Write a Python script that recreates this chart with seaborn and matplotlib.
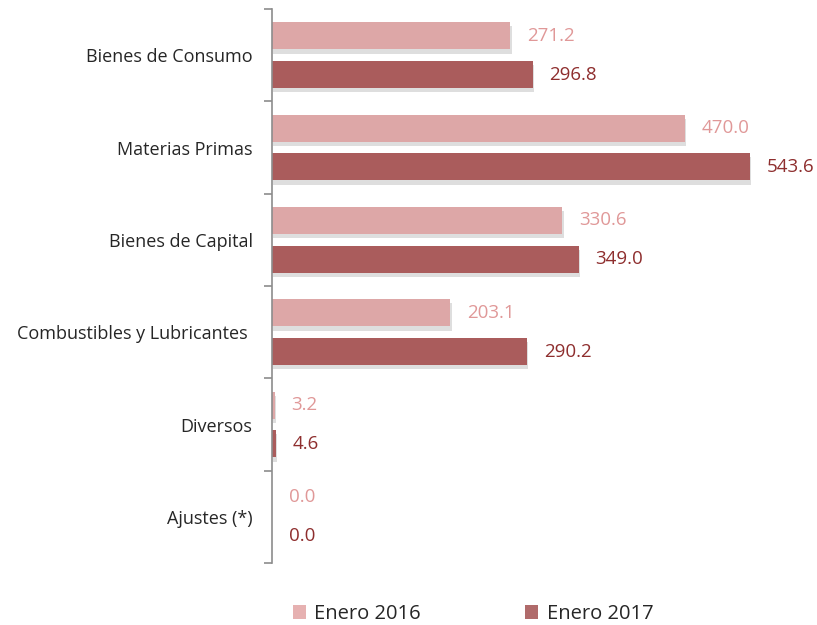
import numpy as np
import pandas as pd
import matplotlib
matplotlib.use("Agg")
import matplotlib.pyplot as plt
import matplotlib.patheffects as pe
from matplotlib.patches import Patch
import seaborn as sns

categories = ["Bienes de Consumo", "Materias Primas", "Bienes de Capital",
              "Combustibles y Lubricantes ", "Diversos", "Ajustes (*)"]
enero_2016 = [271.2, 470.0, 330.6, 203.1, 3.2, 0.0]
enero_2017 = [296.8, 543.6, 349.0, 290.2, 4.6, 0.0]
series = ["Enero 2016", "Enero 2017"]

C = {"Enero 2016": "#DDA7A7", "Enero 2017": "#AA5C5C"}
TXT = {"Enero 2016": "#E09898", "Enero 2017": "#8E2E2E"}
LEG = {"Enero 2016": "#E6B1B1", "Enero 2017": "#B06B6B"}

sns.set_style("white")
plt.rcParams["font.family"] = ["Open Sans", "DejaVu Sans"]

df = pd.DataFrame({
    "cat": categories * 2,
    "val": enero_2016 + enero_2017,
    "serie": [series[0]] * len(categories) + [series[1]] * len(categories),
})

fig = plt.figure(figsize=(8.17, 6.25), dpi=100)
ax = fig.add_axes([272 / 817, 62 / 625, 543 / 817, 554 / 625])

sns.barplot(data=df, y="cat", x="val", hue="serie", orient="h",
            palette=C, width=0.84, gap=0.3, ax=ax, legend=False,
            saturation=1, edgecolor="none")

# soft drop shadow under the bars
for bar in ax.patches:
    bar.set_path_effects([pe.SimplePatchShadow(offset=(1, -3), shadow_rgbFace="#000000", alpha=0.13),
                          pe.Normal()])

# value labels
for cont, s in zip(ax.containers, series):
    ax.bar_label(cont, labels=[f"{v:.1f}" for v in cont.datavalues], padding=12,
                 color=TXT[s], fontsize=13.5)

ax.set_xlim(0, 618)
ax.set_ylim(5.5, -0.5)
ax.set_xlabel("")
ax.set_ylabel("")
ax.set_xticks([])
ax.set_yticks(np.arange(len(categories)))
ax.set_yticklabels(categories, fontsize=13)
ax.tick_params(axis="y", length=0, pad=14)
ax.set_yticks(np.arange(-0.5, len(categories)), minor=True)
ax.tick_params(axis="y", which="minor", left=True, length=6, width=1.2,
               color="#8C8C8C", direction="out")

for side in ["top", "right", "bottom"]:
    ax.spines[side].set_visible(False)
ax.spines["left"].set_color("#8C8C8C")
ax.spines["left"].set_linewidth(1.2)

handles = [Patch(facecolor=LEG[s], edgecolor="none", label=s) for s in series]
fig.legend(handles=handles, loc="center", bbox_to_anchor=(473 / 817, 13 / 625 - 0.003),
           ncol=2, frameon=False, fontsize=14.5, handlelength=0.65, handleheight=0.65,
           handletextpad=0.4, columnspacing=5.2)

fig.savefig("out.png", dpi=100)
plt.close(fig)
